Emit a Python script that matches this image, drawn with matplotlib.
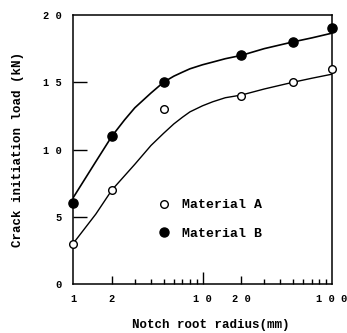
import matplotlib
matplotlib.use("Agg")
import matplotlib.pyplot as plt
from matplotlib.lines import Line2D

# measured points
radius = [1, 2, 5, 20, 50, 100]
load_a = [3, 7, 13, 14, 15, 16]
load_b = [6, 11, 15, 17, 18, 19]

# hand drawn curves
curve_a_x = [1, 1.5, 2, 3, 4, 5, 6, 7, 8, 10, 12, 15, 20, 30, 50, 70, 100]
curve_a_y = [3.0, 5.2, 7.0, 8.9, 10.3, 11.2, 11.9, 12.4, 12.8, 13.25, 13.55, 13.85, 14.05, 14.5, 15.0, 15.3, 15.6]
curve_b_x = [1, 1.5, 2, 2.5, 3, 4, 5, 6, 7, 8, 10, 12, 15, 20, 30, 50, 70, 100]
curve_b_y = [6.4, 9.1, 11.0, 12.2, 13.1, 14.2, 15.0, 15.45, 15.75, 16.0, 16.3, 16.5, 16.75, 17.0, 17.5, 18.0, 18.3, 18.65]

xticks = [1, 2, 10, 20, 100]
xtick_labels = ["1", "2", "1 0", "2 0", "1 0 0"]
yticks = [0, 5, 10, 15, 20]
ytick_labels = ["0", "5", "1 0", "1 5", "2 0"]

font = "Liberation Mono"
plt.rcParams["font.family"] = [font, "DejaVu Sans Mono"]
plt.rcParams["font.weight"] = "bold"

fig = plt.figure(figsize=(3.47, 3.33), dpi=100)
ax = fig.add_axes([0.2104, 0.147, 0.7464, 0.808])

ax.plot(curve_a_x, curve_a_y, color="black", lw=1.0, solid_joinstyle="round")
ax.plot(curve_b_x, curve_b_y, color="black", lw=1.2, solid_joinstyle="round")
ax.plot(radius, load_a, "o", ms=5.5, mfc="white", mec="black", mew=1.0, ls="none", clip_on=False, zorder=3)
ax.plot(radius, load_b, "o", ms=6.6, mfc="black", mec="black", ls="none", clip_on=False, zorder=3)

ax.set_xscale("log")
ax.set_xlim(1, 100)
ax.set_ylim(0, 20)

ax.set_xticks(xticks)
ax.set_xticklabels(xtick_labels, fontsize=7.5, fontweight="bold")
ax.set_yticks(yticks)
ax.set_yticklabels(ytick_labels, fontsize=7.5, fontweight="bold")

# minor ticks on log axis
minor = [3, 4, 5, 6, 7, 8, 9, 30, 40, 50, 60, 70, 80, 90]
ax.set_xticks(minor, minor=True)
ax.xaxis.set_minor_formatter(plt.NullFormatter())
ax.tick_params(axis="x", which="major", direction="in", length=6, width=1, pad=7)
ax.tick_params(axis="x", which="minor", direction="in", length=3.6, width=1)
ax.tick_params(axis="y", direction="in", length=10, width=1, pad=8)
# longer tick at 10
for t in ax.xaxis.get_major_ticks():
    if t.get_loc() == 10:
        t.tick1line.set_markersize(9)
    if t.get_loc() in (1, 100):
        t.tick1line.set_markersize(0)
for t in ax.yaxis.get_major_ticks():
    if t.get_loc() in (0, 20):
        t.tick1line.set_markersize(0)

for s in ax.spines.values():
    s.set_linewidth(1.1)

ax.set_xlabel("Notch root radius(mm)", fontsize=9, fontweight="bold")
ax.xaxis.set_label_coords(0.533, -0.13)
ax.set_ylabel("Crack initiation load (kN)", fontsize=9, fontweight="bold", labelpad=14)

handles = [
    Line2D([], [], marker="o", ls="none", ms=5.5, mfc="white", mec="black", mew=1.0),
    Line2D([], [], marker="o", ls="none", ms=6.5, mfc="black", mec="black"),
]
ax.legend(handles, ["Material A", "Material B"], loc="upper left",
          bbox_to_anchor=(0.30, 0.341), frameon=False, handletextpad=0.9,
          labelspacing=1.25, prop={"family": font, "weight": "bold", "size": 9.5},
          handlelength=1.0, borderpad=0)

fig.savefig("out.png", dpi=100)
